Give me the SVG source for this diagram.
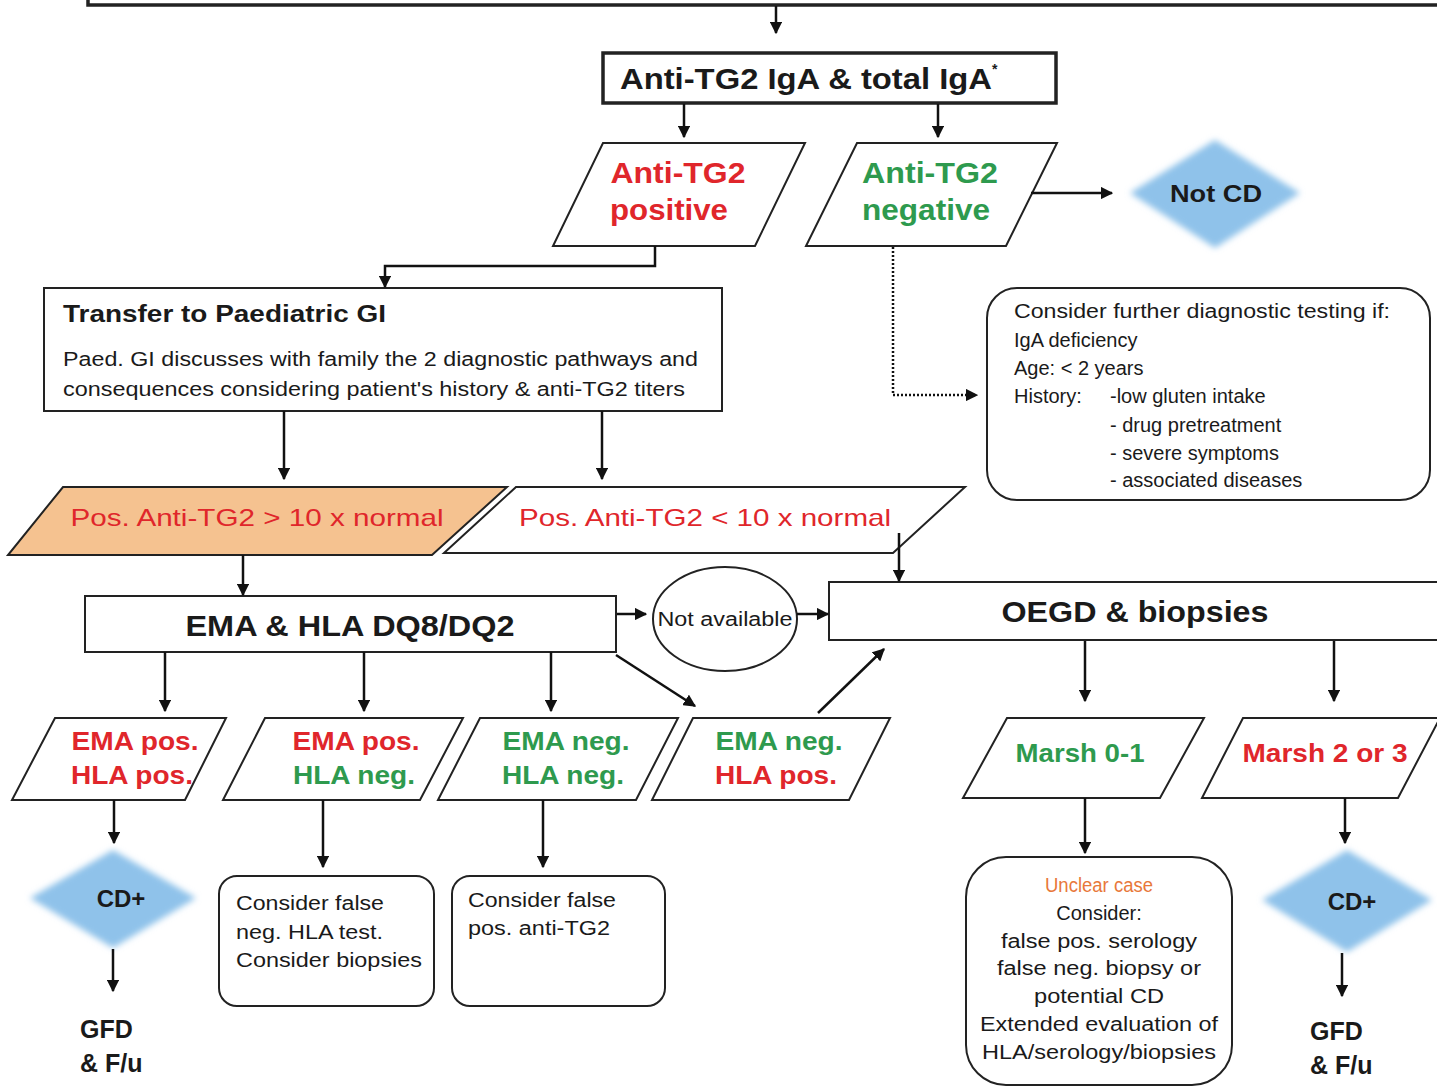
<svg xmlns="http://www.w3.org/2000/svg" width="1437" height="1088" viewBox="0 0 1437 1088">
<defs>
<marker id="ah" viewBox="0 0 10 10" refX="9" refY="5" markerWidth="5" markerHeight="5" orient="auto" markerUnits="strokeWidth">
<path d="M0,0 L10,5 L0,10 z" fill="#111"/>
</marker>
<filter id="soft" x="-10%" y="-10%" width="120%" height="120%"><feGaussianBlur stdDeviation="3"/></filter>
<style>
text{font-family:"Liberation Sans",Arial,sans-serif;}
.b{font-weight:bold;}
.box{fill:#fff;stroke:#222;stroke-width:2;}
.thick{fill:#fff;stroke:#222;stroke-width:3.5;}
.c{stroke:#111;stroke-width:2.5;fill:none;}
.red{fill:#e0262b;}
.grn{fill:#2e9a4e;}
.blk{fill:#1a1a1a;}
.dia{fill:#8fc2ea;}
.mid{text-anchor:middle;}
</style>
</defs>
<rect width="1437" height="1088" fill="#fff"/>

<g id="top-box"><rect x="88" y="-30" width="1380" height="35" class="thick"/></g>

<g id="n-antitg2"><rect x="603" y="53" width="453" height="50" class="thick"/>
<text x="620" y="89" class="b blk" font-size="30" textLength="372" lengthAdjust="spacingAndGlyphs">Anti-TG2 IgA &amp; total IgA</text><text x="992" y="74" class="b blk" font-size="14">*</text></g>

<g id="n-pos"><polygon points="603,143 805,143 755,246 553,246" class="box"/>
<text x="678" y="183" class="b red mid" font-size="30" textLength="135" lengthAdjust="spacingAndGlyphs">Anti-TG2</text>
<text x="669" y="220" class="b red mid" font-size="30" textLength="118" lengthAdjust="spacingAndGlyphs">positive</text></g>

<g id="n-neg"><polygon points="857,143 1057,143 1006,246 806,246" class="box"/>
<text x="930" y="183" class="b grn mid" font-size="30" textLength="136" lengthAdjust="spacingAndGlyphs">Anti-TG2</text>
<text x="926" y="220" class="b grn mid" font-size="30" textLength="128" lengthAdjust="spacingAndGlyphs">negative</text></g>

<g id="n-notcd"><polygon points="1215,140 1300,193 1215,248 1130,193" class="dia" filter="url(#soft)"/>
<text x="1216" y="202" class="b blk mid" font-size="24" textLength="92" lengthAdjust="spacingAndGlyphs">Not CD</text></g>

<g id="n-transfer"><rect x="44" y="288" width="678" height="123" class="box"/>
<text x="63" y="322" class="b blk" font-size="24" textLength="323" lengthAdjust="spacingAndGlyphs">Transfer to Paediatric GI</text>
<text x="63" y="366" class="blk" font-size="20" textLength="635" lengthAdjust="spacingAndGlyphs">Paed. GI discusses with family the 2 diagnostic pathways and</text>
<text x="63" y="396" class="blk" font-size="20" textLength="622" lengthAdjust="spacingAndGlyphs">consequences considering patient's history &amp; anti-TG2 titers</text></g>

<g id="n-further"><rect x="987" y="288" width="443" height="212" rx="30" class="box"/>
<text x="1014" y="318" class="blk" font-size="20" textLength="376" lengthAdjust="spacingAndGlyphs">Consider further diagnostic testing if:</text>
<text x="1014" y="347" class="blk" font-size="20">IgA deficiency</text>
<text x="1014" y="375" class="blk" font-size="20">Age: &lt; 2 years</text>
<text x="1014" y="403" class="blk" font-size="20">History:</text>
<text x="1110" y="403" class="blk" font-size="20">-low gluten intake</text>
<text x="1110" y="432" class="blk" font-size="20">- drug pretreatment</text>
<text x="1110" y="460" class="blk" font-size="20">- severe symptoms</text>
<text x="1110" y="487" class="blk" font-size="20">- associated diseases</text></g>

<g id="n-gt10"><polygon points="63,487 507,487 432,555 8,555" fill="#f5c290" stroke="#222" stroke-width="2"/>
<text x="257" y="526" class="red mid" font-size="24" textLength="373" lengthAdjust="spacingAndGlyphs">Pos. Anti-TG2 &gt; 10 x normal</text></g>

<g id="n-lt10"><polygon points="516,487 965,487 893,553 444,553" class="box"/>
<text x="705" y="526" class="red mid" font-size="24" textLength="372" lengthAdjust="spacingAndGlyphs">Pos. Anti-TG2 &lt; 10 x normal</text></g>

<g id="n-ema"><rect x="85" y="596" width="531" height="56" class="box"/>
<text x="350" y="636" class="b blk mid" font-size="30" textLength="329" lengthAdjust="spacingAndGlyphs">EMA &amp; HLA DQ8/DQ2</text></g>

<g id="n-na"><ellipse cx="725" cy="619" rx="72" ry="52" class="box"/>
<text x="725" y="626" class="blk mid" font-size="20" textLength="135" lengthAdjust="spacingAndGlyphs">Not available</text></g>

<g id="n-oegd"><rect x="829" y="582" width="640" height="58" class="box"/>
<text x="1135" y="622" class="b blk mid" font-size="30" textLength="267" lengthAdjust="spacingAndGlyphs">OEGD &amp; biopsies</text></g>

<g id="n-p1"><polygon points="55,718 226,718 185,800 12,800" class="box"/>
<text x="135" y="750" class="b red mid" font-size="25" textLength="127" lengthAdjust="spacingAndGlyphs">EMA pos.</text>
<text x="132" y="784" class="b red mid" font-size="25" textLength="122" lengthAdjust="spacingAndGlyphs">HLA pos.</text></g>

<g id="n-p2"><polygon points="265,718 463,718 420,800 223,800" class="box"/>
<text x="356" y="750" class="b red mid" font-size="25" textLength="127" lengthAdjust="spacingAndGlyphs">EMA pos.</text>
<text x="354" y="784" class="b grn mid" font-size="25" textLength="122" lengthAdjust="spacingAndGlyphs">HLA neg.</text></g>

<g id="n-p3"><polygon points="480,718 678,718 636,800 438,800" class="box"/>
<text x="566" y="750" class="b grn mid" font-size="25" textLength="127" lengthAdjust="spacingAndGlyphs">EMA neg.</text>
<text x="563" y="784" class="b grn mid" font-size="25" textLength="122" lengthAdjust="spacingAndGlyphs">HLA neg.</text></g>

<g id="n-p4"><polygon points="693,718 890,718 849,800 652,800" class="box"/>
<text x="779" y="750" class="b grn mid" font-size="25" textLength="127" lengthAdjust="spacingAndGlyphs">EMA neg.</text>
<text x="776" y="784" class="b red mid" font-size="25" textLength="122" lengthAdjust="spacingAndGlyphs">HLA pos.</text></g>

<g id="n-m01"><polygon points="1007,718 1204,718 1160,798 963,798" class="box"/>
<text x="1080" y="762" class="b grn mid" font-size="25" textLength="129" lengthAdjust="spacingAndGlyphs">Marsh 0-1</text></g>

<g id="n-m23"><polygon points="1243,718 1440,718 1398,798 1202,798" class="box"/>
<text x="1325" y="762" class="b red mid" font-size="25" textLength="165" lengthAdjust="spacingAndGlyphs">Marsh 2 or 3</text></g>

<g id="n-cd1"><polygon points="113,850 196,898 113,948 30,898" class="dia" filter="url(#soft)"/>
<text x="121" y="907" class="b blk mid" font-size="24">CD+</text></g>

<g id="n-gfd1"><text x="80" y="1038" class="b blk" font-size="25">GFD</text>
<text x="80" y="1072" class="b blk" font-size="25">&amp; F/u</text></g>

<g id="n-falseneg"><rect x="219" y="876" width="215" height="130" rx="18" class="box"/>
<text x="236" y="910" class="blk" font-size="20" textLength="148" lengthAdjust="spacingAndGlyphs">Consider false</text>
<text x="236" y="939" class="blk" font-size="20" textLength="147" lengthAdjust="spacingAndGlyphs">neg. HLA test.</text>
<text x="236" y="967" class="blk" font-size="20" textLength="186" lengthAdjust="spacingAndGlyphs">Consider biopsies</text></g>

<g id="n-falsepos"><rect x="452" y="876" width="213" height="130" rx="18" class="box"/>
<text x="468" y="907" class="blk" font-size="20" textLength="148" lengthAdjust="spacingAndGlyphs">Consider false</text>
<text x="468" y="935" class="blk" font-size="20" textLength="142" lengthAdjust="spacingAndGlyphs">pos. anti-TG2</text></g>

<g id="n-unclear"><rect x="966" y="857" width="266" height="228" rx="40" class="box"/>
<text x="1099" y="892" class="mid" fill="#e8783a" font-size="20" textLength="108" lengthAdjust="spacingAndGlyphs">Unclear case</text>
<text x="1099" y="920" class="blk mid" font-size="20">Consider:</text>
<text x="1099" y="948" class="blk mid" font-size="20" textLength="196" lengthAdjust="spacingAndGlyphs">false pos. serology</text>
<text x="1099" y="975" class="blk mid" font-size="20" textLength="204" lengthAdjust="spacingAndGlyphs">false neg. biopsy or</text>
<text x="1099" y="1003" class="blk mid" font-size="20" textLength="130" lengthAdjust="spacingAndGlyphs">potential CD</text>
<text x="1099" y="1031" class="blk mid" font-size="20" textLength="238" lengthAdjust="spacingAndGlyphs">Extended evaluation of</text>
<text x="1099" y="1059" class="blk mid" font-size="20" textLength="234" lengthAdjust="spacingAndGlyphs">HLA/serology/biopsies</text></g>

<g id="n-cd2"><polygon points="1347,850 1432,900 1347,952 1262,900" class="dia" filter="url(#soft)"/>
<text x="1352" y="910" class="b blk mid" font-size="24">CD+</text></g>

<g id="n-gfd2"><text x="1310" y="1040" class="b blk" font-size="25">GFD</text>
<text x="1310" y="1074" class="b blk" font-size="25">&amp; F/u</text></g>

<g id="connectors">
<line x1="776" y1="6" x2="776" y2="33" class="c" marker-end="url(#ah)"/>
<line x1="684" y1="104" x2="684" y2="137" class="c" marker-end="url(#ah)"/>
<line x1="938" y1="104" x2="938" y2="137" class="c" marker-end="url(#ah)"/>
<line x1="1031" y1="193" x2="1112" y2="193" class="c" marker-end="url(#ah)"/>
<polyline points="655,246 655,266 385,266 385,287" class="c" marker-end="url(#ah)"/>
<polyline points="893,247 893,395 977,395" class="c" stroke-dasharray="2,2" marker-end="url(#ah)"/>
<line x1="284" y1="411" x2="284" y2="479" class="c" marker-end="url(#ah)"/>
<line x1="602" y1="411" x2="602" y2="479" class="c" marker-end="url(#ah)"/>
<line x1="243" y1="555" x2="243" y2="595" class="c" marker-end="url(#ah)"/>
<line x1="899" y1="533" x2="899" y2="581" class="c" marker-end="url(#ah)"/>
<line x1="617" y1="614" x2="646" y2="614" class="c" marker-end="url(#ah)"/>
<line x1="797" y1="614" x2="828" y2="614" class="c" marker-end="url(#ah)"/>
<line x1="165" y1="652" x2="165" y2="711" class="c" marker-end="url(#ah)"/>
<line x1="364" y1="652" x2="364" y2="711" class="c" marker-end="url(#ah)"/>
<line x1="551" y1="652" x2="551" y2="711" class="c" marker-end="url(#ah)"/>
<line x1="616" y1="655" x2="695" y2="706" class="c" marker-end="url(#ah)"/>
<line x1="818" y1="713" x2="884" y2="649" class="c" marker-end="url(#ah)"/>
<line x1="1085" y1="641" x2="1085" y2="701" class="c" marker-end="url(#ah)"/>
<line x1="1334" y1="641" x2="1334" y2="701" class="c" marker-end="url(#ah)"/>
<line x1="114" y1="800" x2="114" y2="843" class="c" marker-end="url(#ah)"/>
<line x1="113" y1="949" x2="113" y2="991" class="c" marker-end="url(#ah)"/>
<line x1="323" y1="800" x2="323" y2="867" class="c" marker-end="url(#ah)"/>
<line x1="543" y1="800" x2="543" y2="867" class="c" marker-end="url(#ah)"/>
<line x1="1085" y1="798" x2="1085" y2="853" class="c" marker-end="url(#ah)"/>
<line x1="1345" y1="798" x2="1345" y2="843" class="c" marker-end="url(#ah)"/>
<line x1="1342" y1="953" x2="1342" y2="996" class="c" marker-end="url(#ah)"/>
</g>
</svg>
